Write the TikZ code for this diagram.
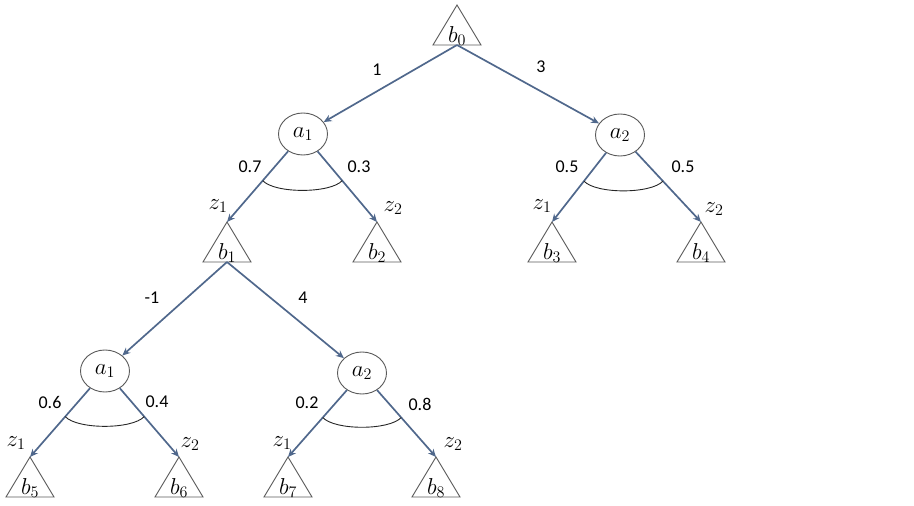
\RequirePackage{fix-cm}
\documentclass[tikz,border=0pt]{standalone}
\usepackage{fontspec}
\setmainfont{Carlito}
\usetikzlibrary{shapes.geometric,arrows.meta,calc}
\definecolor{edgec}{RGB}{80,104,140}
\definecolor{outl}{RGB}{90,90,90}
\tikzset{
  edge/.style={draw=edgec,line width=1.7pt,-{Stealth[length=8pt,width=7pt]}},
  tribox/.style={draw=outl,line width=0.9pt},
  ell/.style={ellipse,draw=outl,line width=0.9pt,minimum width=49pt,minimum height=42pt,inner sep=0pt},
  mlab/.style={font=\fontsize{23}{26}\selectfont,inner sep=0pt},
  nlab/.style={font=\fontsize{18}{21}\selectfont,inner sep=0pt},
  arcline/.style={draw=black!85,line width=0.9pt},
}
% name, apex x, apex y, label
\newcommand\mytri[4]{%
  \coordinate (#1t) at (#2,#3);
  \coordinate (#1b) at (#2,#3+40);
  \draw[tribox] (#1t) -- ++(-24,40) -- ++(48,0) -- cycle;
  \node[mlab,anchor=base] (#1) at (#2,#3+37) {$#4$};
}
% parent, left child apex, right child apex, name
\newcommand\myarc[4]{%
  \coordinate (#4L) at ($(#1)!0.53!(#2)$);
  \coordinate (#4R) at ($(#1)!0.53!(#3)$);
  \draw[arcline] (#4L) .. controls +(12,13) and +(-12,13) .. (#4R);
}
\begin{document}
\begin{tikzpicture}[x=1pt,y=-1pt]
\useasboundingbox (0,0) rectangle (914,506);
% triangles
\mytri{b0}{457}{5}{b_0}
\mytri{b1}{227}{222}{b_1}
\mytri{b2}{377}{222}{b_2}
\mytri{b3}{552}{222}{b_3}
\mytri{b4}{701}{222}{b_4}
\mytri{b5}{30}{457}{b_5}
\mytri{b6}{179}{457}{b_6}
\mytri{b7}{288}{457}{b_7}
\mytri{b8}{436}{457}{b_8}
% ellipses
\node[ell,mlab] (a1t) at (303,134) {$a_1$};
\node[ell,mlab] (a2t) at (620,135) {$a_2$};
\node[ell,mlab] (a1d) at (105,371) {$a_1$};
\node[ell,mlab] (a2d) at (362,373) {$a_2$};
% edges
\draw[edge] (b0b) -- (a1t);
\draw[edge] (b0b) -- (a2t);
\draw[edge] (a1t) -- (b1t);
\draw[edge] (a1t) -- (b2t);
\draw[edge] (a2t) -- (b3t);
\draw[edge] (a2t) -- (b4t);
\draw[edge] (b1b) -- (a1d);
\draw[edge] (b1b) -- (a2d);
\draw[edge] (a1d) -- (b5t);
\draw[edge] (a1d) -- (b6t);
\draw[edge] (a2d) -- (b7t);
\draw[edge] (a2d) -- (b8t);
% arcs
\myarc{a1t}{b1t}{b2t}{c1}
\myarc{a2t}{b3t}{b4t}{c2}
\myarc{a1d}{b5t}{b6t}{c3}
\myarc{a2d}{b7t}{b8t}{c4}
% edge labels
\node[nlab] (l1) at (377,70) {1};
\node[nlab] (l3) at (541,67) {3};
\node[nlab] (l07) at (250,167) {0.7};
\node[nlab] (l03) at (359,167) {0.3};
\node[nlab] (l05a) at (567,167) {0.5};
\node[nlab] (l05b) at (683,167) {0.5};
\node[nlab] (lm1) at (152,298) {-1};
\node[nlab] (l4) at (303,298) {4};
\node[nlab] (l06) at (50,402) {0.6};
\node[nlab] (l04) at (157,402) {0.4};
\node[nlab] (l02) at (307,403) {0.2};
\node[nlab] (l08) at (420,404) {0.8};
% z labels
\node[mlab] (z1a) at (218,206) {$z_1$};
\node[mlab] (z2a) at (393,208) {$z_2$};
\node[mlab] (z1b) at (542,206) {$z_1$};
\node[mlab] (z2b) at (714,209) {$z_2$};
\node[mlab] (z1c) at (16,443) {$z_1$};
\node[mlab] (z2c) at (190,444) {$z_2$};
\node[mlab] (z1d) at (282,443) {$z_1$};
\node[mlab] (z2d) at (453,444) {$z_2$};
\end{tikzpicture}
\end{document}
